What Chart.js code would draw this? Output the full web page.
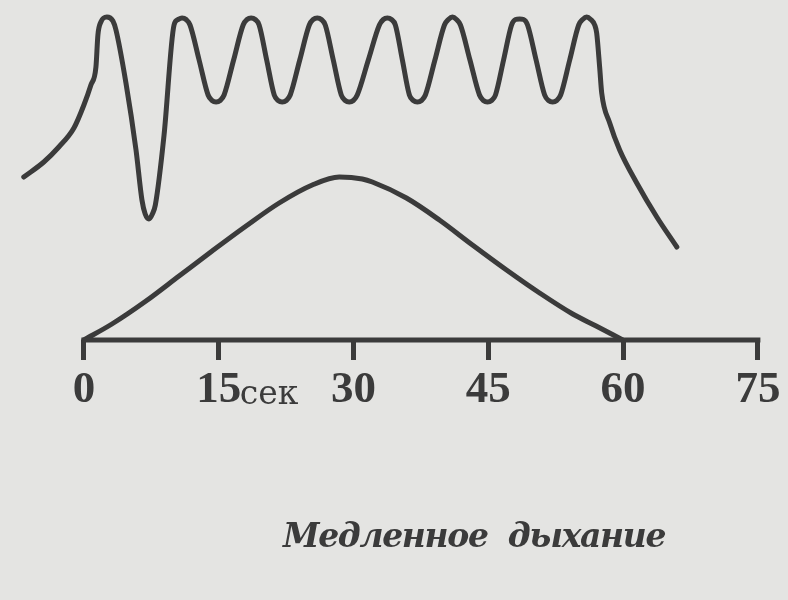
<!DOCTYPE html>
<html>
<head>
<meta charset="utf-8">
<script src="https://cdn.jsdelivr.net/npm/chart.js@4.4.1/dist/chart.umd.min.js"></script>
<style>
    body { margin: 0; background: #e4e4e2; }
    #wrap { position: relative; width: 788px; height: 600px; }
    #title {
        position: absolute; left: 283px; top: 516px;
        font: italic bold 33px "DejaVu Serif"; color: #3b3b3b;
        letter-spacing: -1.35px; white-space: pre;
    }
</style>
</head>
<body>
<div id="wrap">
    <canvas id="breathChart" width="788" height="600"></canvas>
    <div id="title">Медленное  дыхание</div>
</div>
<script>
// секунды
const xTicks = [0, 15, 30, 45, 60, 75];

// верхняя кривая (дыхание)
const waveTime = [
    -6.69, -4.46, -2.79, -1.11, 0, 0.78, 1.34, 1.56, 1.89, 2.56, 3.23, 3.57,
    4.68, 5.8, 6.46, 6.82, 7.24, 7.62, 7.95, 8.92,
    10.03, 10.48, 10.92, 11.37, 11.81, 12.82, 13.82, 14.26, 14.71, 15.16, 15.6, 16.66,
    17.72, 18.16, 18.61, 19.06, 19.5, 20.34, 21.18, 21.62, 22.07, 22.52, 22.96, 24.02,
    25.08, 25.52, 25.97, 26.42, 26.86, 27.75, 28.64, 29.08, 29.53, 29.98, 30.42, 31.65,
    32.88, 33.32, 33.77, 34.22, 34.66, 35.44, 36.22, 36.66, 37.11, 37.56, 38.0, 39.06,
    40.12, 40.56, 41.01, 41.46, 41.9, 42.96, 44.02, 44.46, 44.91, 45.36, 45.8, 46.7,
    47.59, 48.03, 48.48, 48.93, 49.37, 50.32, 51.27, 51.71, 52.16, 52.61, 53.05, 54.06,
    55.06, 55.5, 55.95, 56.4, 56.84, 57.06, 57.39, 57.62, 58.51, 59.62, 61.52, 63.75, 65.98
];
const waveValue = [
    163, 178, 193, 212, 235, 255, 273, 305, 318, 323, 319, 310,
    257, 190, 140, 126, 121, 126, 135, 205,
    315, 320.5, 322, 320.5, 315, 280, 245, 239.5, 238, 239.5, 245, 280,
    315, 320.5, 322, 320.5, 315, 280, 245, 239.5, 238, 239.5, 245, 280,
    315, 320.5, 322, 320.5, 315, 280, 245, 239.5, 238, 239.5, 245, 280,
    315, 320.5, 322, 320.5, 315, 280, 245, 239.5, 238, 239.5, 245, 280,
    315, 320.5, 323, 320.5, 315, 280, 245, 239.5, 238, 239.5, 245, 280,
    315, 320.5, 321, 320.5, 315, 280, 245, 239.5, 238, 239.5, 245, 280,
    315, 320.5, 323, 320.5, 315, 307, 273, 247, 217, 190, 157, 123, 93
];

// нижняя кривая (колокол)
const bellTime = [0, 3.12, 6.91, 10.59, 14.27, 18.05, 21.73, 25.41, 28.42, 30.98, 32.1, 35.89, 39.56, 43.24, 47.03, 50.71, 54.39, 57.0, 59.96];
const bellValue = [0, 16, 39, 64, 89, 114, 137, 155, 163, 161, 158, 142, 120, 95, 70, 47, 26, 14, 0];

const ink = '#3b3b3b';

const toPoints = (xs, ys) => xs.map((x, i) => ({ x: x, y: ys[i] }));

const axisLine = {
    id: 'axisLine',
    afterDraw(chart) {
        const ctx = chart.ctx;
        const x = chart.scales.x;
        const y0 = chart.chartArea.bottom;
        ctx.save();
        ctx.strokeStyle = ink;
        ctx.lineWidth = 5;
        ctx.beginPath();
        ctx.moveTo(x.getPixelForValue(xTicks[0]) - 2.5, y0);
        ctx.lineTo(x.getPixelForValue(xTicks[xTicks.length - 1]) + 2.5, y0);
        ctx.stroke();
        ctx.fillStyle = ink;
        ctx.font = '33px "DejaVu Serif"';
        ctx.textBaseline = 'alphabetic';
        ctx.fillText('сек', x.getPixelForValue(15) + 21, 404);
        ctx.restore();
    }
};

const ctx = document.getElementById('breathChart').getContext('2d');

new Chart(ctx, {
    type: 'line',
    data: {
        datasets: [{
            data: toPoints(waveTime, waveValue),
            borderColor: ink,
            borderWidth: 5,
            cubicInterpolationMode: 'monotone',
            pointRadius: 0,
            borderCapStyle: 'round',
            borderJoinStyle: 'round'
        }, {
            data: toPoints(bellTime, bellValue),
            borderColor: ink,
            borderWidth: 5,
            cubicInterpolationMode: 'monotone',
            pointRadius: 0,
            borderCapStyle: 'round'
        }]
    },
    options: {
        responsive: false,
        animation: false,
        layout: { padding: { left: 12, right: 0, top: 5, bottom: 180 } },
        plugins: { legend: { display: false }, tooltip: { enabled: false } },
        scales: {
            x: {
                type: 'linear',
                min: -8,
                max: 78.35,
                afterBuildTicks: (scale) => { scale.ticks = xTicks.map(v => ({ value: v })); },
                grid: {
                    drawOnChartArea: false,
                    drawTicks: true,
                    tickLength: 20,
                    tickWidth: 5,
                    tickColor: ink
                },
                border: { display: false },
                ticks: {
                    autoSkip: false,
                    maxRotation: 0,
                    padding: 3,
                    color: ink,
                    font: { family: 'Liberation Serif', size: 45, weight: 'bold' },
                    callback: (v) => String(v)
                }
            },
            y: {
                display: false,
                min: 0,
                max: 335
            }
        }
    },
    plugins: [axisLine]
});
</script>
</body>
</html>
